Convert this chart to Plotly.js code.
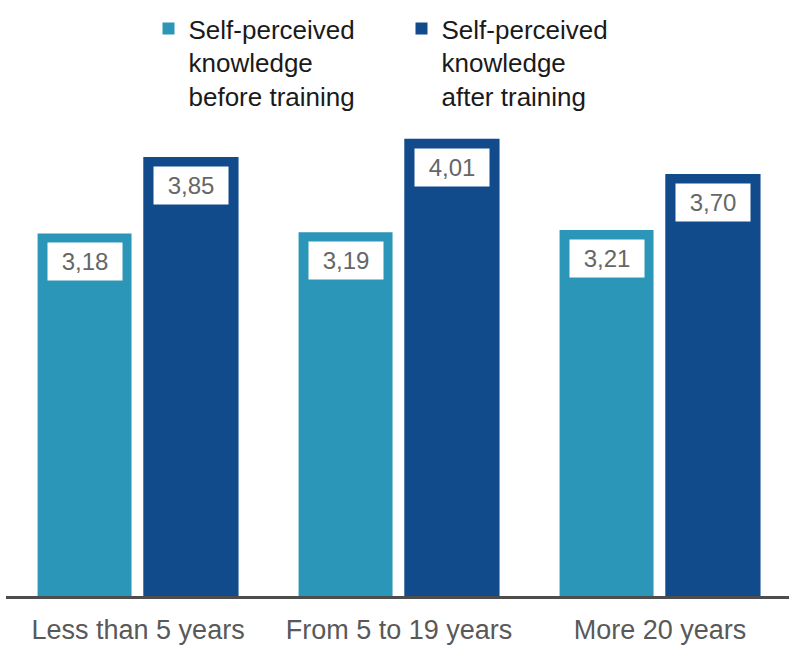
<!DOCTYPE html>
<html>
<head>
<meta charset="utf-8">
<script src="https://cdn.plot.ly/plotly-3.0.1.min.js"></script>
<style>html,body{margin:0;padding:0;background:#fff;}#chart{width:796px;height:651px;}</style>
</head>
<body>
<div id="chart"></div>
<script>
const categories = ["Less than 5 years", "From 5 to 19 years", "More 20 years"];
const beforeValues = [3.18, 3.19, 3.21];
const afterValues = [3.85, 4.01, 3.70];
const beforeLabels = ["3,18", "3,19", "3,21"];
const afterLabels = ["3,85", "4,01", "3,70"];
const seriesNames = ["Self-perceived<br>knowledge<br>before training", "Self-perceived<br>knowledge<br>after training"];

const colBefore = "#2c96b9";
const colAfter = "#124b8b";
const FONT = "Liberation Sans, Arial, sans-serif";

const beforeOffset = -0.385, beforeWidth = 0.36;
const afterOffset = 0.02, afterWidth = 0.365;

const traces = [
  {type: "bar", name: seriesNames[0], x: categories, y: beforeValues,
   offset: beforeOffset, width: beforeWidth, marker: {color: colBefore}, hoverinfo: "none"},
  {type: "bar", name: seriesNames[1], x: categories, y: afterValues,
   offset: afterOffset, width: afterWidth, marker: {color: colAfter}, hoverinfo: "none"}
];

const annotations = [];
function addLabels(vals, labels, offset, width) {
  vals.forEach((v, i) => {
    annotations.push({
      x: i + offset + width / 2, y: v, xref: "x", yref: "y",
      text: labels[i], showarrow: false, yanchor: "top", xanchor: "center",
      yshift: -9, width: 72, height: 35, borderpad: 1,
      bgcolor: "#ffffff", font: {family: FONT, size: 24, color: "#666666"}
    });
  });
}
addLabels(beforeValues, beforeLabels, beforeOffset, beforeWidth);
addLabels(afterValues, afterLabels, afterOffset, afterWidth);

const layout = {
  width: 796, height: 651,
  margin: {l: 6, r: 7, t: 83, b: 55},
  paper_bgcolor: "#ffffff", plot_bgcolor: "#ffffff",
  barmode: "group",
  showlegend: true,
  legend: {
    orientation: "h", x: 0.182, y: 1.152, xanchor: "left", yanchor: "top",
    font: {family: FONT, size: 26, color: "#1a1a1a"},
    valign: "top", entrywidth: 208, entrywidthmode: "pixels",
    itemclick: false, itemdoubleclick: false, bgcolor: "rgba(0,0,0,0)"
  },
  xaxis: {
    type: "category", range: [-0.506, 2.494],
    showline: true, linecolor: "#4d4d4d", linewidth: 3,
    showgrid: false, zeroline: false, ticks: "",
    ticklabelstandoff: 8,
    tickfont: {family: FONT, size: 27, color: "#595959"}
  },
  yaxis: {
    range: [0, 4.49], visible: false, showgrid: false, zeroline: false
  },
  annotations: annotations
};

Plotly.newPlot("chart", traces, layout, {displayModeBar: false, staticPlot: true});
</script>
</body>
</html>
